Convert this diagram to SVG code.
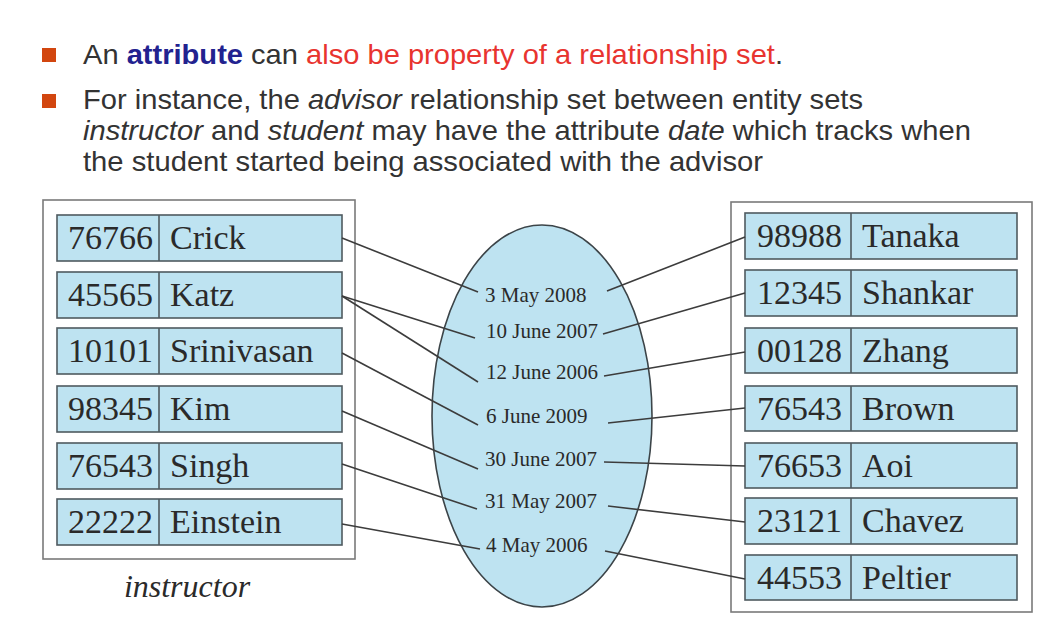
<svg xmlns="http://www.w3.org/2000/svg" width="1055" height="627" viewBox="0 0 1055 627">
<style>
.hdr{font-family:"Liberation Sans",Arial,sans-serif;font-size:28px;fill:#333}
.it{font-style:italic}
.blue{font-weight:bold;fill:#22228f}
.red{fill:#e8342f}
.bul{fill:#d2460f}
.outer{fill:#fff;stroke:#7a7a7a;stroke-width:1.6}
.row{fill:#bee3f1;stroke:#4f5a60;stroke-width:1.6}
.div{stroke:#4f5a60;stroke-width:1.6}
.cell{font-family:"Liberation Serif","Times New Roman",serif;font-size:34px;fill:#2a2a2a}
.date{font-family:"Liberation Serif","Times New Roman",serif;font-size:21px;fill:#2a2a2a}
.lbl{font-family:"Liberation Serif","Times New Roman",serif;font-size:32px;font-style:italic;fill:#2a2a2a}
.con{stroke:#3c3c3c;stroke-width:1.6;fill:none}
</style>
<rect width="1055" height="627" fill="#fff"/>
<g id="header">
<rect class="bul" x="42" y="48" width="14" height="14"/>
<rect class="bul" x="42" y="94" width="14" height="14"/>
<text class="hdr" x="83" y="64" textLength="700" lengthAdjust="spacingAndGlyphs">An <tspan class="blue">attribute</tspan> can <tspan class="red">also be property of a relationship set</tspan>.</text>
<text class="hdr" x="83" y="109" textLength="780" lengthAdjust="spacingAndGlyphs">For instance, the <tspan class="it">advisor</tspan> relationship set between entity sets</text>
<text class="hdr" x="83" y="140" textLength="888" lengthAdjust="spacingAndGlyphs"><tspan class="it">instructor</tspan> and <tspan class="it">student</tspan> may have the attribute <tspan class="it">date</tspan> which tracks when</text>
<text class="hdr" x="83" y="171" textLength="680" lengthAdjust="spacingAndGlyphs">the student started being associated with the advisor</text>
</g>
<g id="instructor">
<rect class="outer" x="43" y="200" width="312" height="359"/>
<g id="i1"><rect class="row" x="57" y="215" width="285" height="46"/><line class="div" x1="159" y1="215" x2="159" y2="261"/><text class="cell" x="68" y="249">76766</text><text class="cell" x="170" y="249">Crick</text></g>
<g id="i2"><rect class="row" x="57" y="272" width="285" height="46"/><line class="div" x1="159" y1="272" x2="159" y2="318"/><text class="cell" x="68" y="306">45565</text><text class="cell" x="170" y="306">Katz</text></g>
<g id="i3"><rect class="row" x="57" y="328" width="285" height="46"/><line class="div" x1="159" y1="328" x2="159" y2="374"/><text class="cell" x="68" y="362">10101</text><text class="cell" x="170" y="362">Srinivasan</text></g>
<g id="i4"><rect class="row" x="57" y="386" width="285" height="46"/><line class="div" x1="159" y1="386" x2="159" y2="432"/><text class="cell" x="68" y="420">98345</text><text class="cell" x="170" y="420">Kim</text></g>
<g id="i5"><rect class="row" x="57" y="443" width="285" height="46"/><line class="div" x1="159" y1="443" x2="159" y2="489"/><text class="cell" x="68" y="477">76543</text><text class="cell" x="170" y="477">Singh</text></g>
<g id="i6"><rect class="row" x="57" y="499" width="285" height="46"/><line class="div" x1="159" y1="499" x2="159" y2="545"/><text class="cell" x="68" y="533">22222</text><text class="cell" x="170" y="533">Einstein</text></g>
<text class="lbl" x="187" y="597" text-anchor="middle">instructor</text>
</g>
<g id="student">
<rect class="outer" x="731" y="202" width="301" height="410"/>
<g id="s1"><rect class="row" x="745" y="213" width="272" height="46"/><line class="div" x1="851" y1="213" x2="851" y2="259"/><text class="cell" x="757" y="247">98988</text><text class="cell" x="862" y="247">Tanaka</text></g>
<g id="s2"><rect class="row" x="745" y="270" width="272" height="46"/><line class="div" x1="851" y1="270" x2="851" y2="316"/><text class="cell" x="757" y="304">12345</text><text class="cell" x="862" y="304">Shankar</text></g>
<g id="s3"><rect class="row" x="745" y="328" width="272" height="45"/><line class="div" x1="851" y1="328" x2="851" y2="373"/><text class="cell" x="757" y="362">00128</text><text class="cell" x="862" y="362">Zhang</text></g>
<g id="s4"><rect class="row" x="745" y="386" width="272" height="45"/><line class="div" x1="851" y1="386" x2="851" y2="431"/><text class="cell" x="757" y="420">76543</text><text class="cell" x="862" y="420">Brown</text></g>
<g id="s5"><rect class="row" x="745" y="443" width="272" height="45"/><line class="div" x1="851" y1="443" x2="851" y2="488"/><text class="cell" x="757" y="477">76653</text><text class="cell" x="862" y="477">Aoi</text></g>
<g id="s6"><rect class="row" x="745" y="498" width="272" height="46"/><line class="div" x1="851" y1="498" x2="851" y2="544"/><text class="cell" x="757" y="532">23121</text><text class="cell" x="862" y="532">Chavez</text></g>
<g id="s7"><rect class="row" x="745" y="555" width="272" height="45"/><line class="div" x1="851" y1="555" x2="851" y2="600"/><text class="cell" x="757" y="589">44553</text><text class="cell" x="862" y="589">Peltier</text></g>
</g>
<g id="advisor">
<ellipse cx="542" cy="416" rx="110" ry="191" fill="#bee3f1" stroke="#3c4448" stroke-width="1.6"/>
<text class="date" x="485" y="302">3 May 2008</text>
<text class="date" x="486" y="338">10 June 2007</text>
<text class="date" x="486" y="379">12 June 2006</text>
<text class="date" x="486" y="423">6 June 2009</text>
<text class="date" x="485" y="466">30 June 2007</text>
<text class="date" x="485" y="508">31 May 2007</text>
<text class="date" x="486" y="552">4 May 2006</text>
</g>
<g id="connectors">
<line class="con" x1="342" y1="238" x2="478" y2="292"/>
<line class="con" x1="342" y1="296" x2="475" y2="338"/>
<line class="con" x1="342" y1="296" x2="478" y2="382"/>
<line class="con" x1="342" y1="353" x2="478" y2="425"/>
<line class="con" x1="342" y1="411" x2="478" y2="469"/>
<line class="con" x1="342" y1="464" x2="477" y2="509"/>
<line class="con" x1="342" y1="524" x2="480" y2="549"/>
<line class="con" x1="607" y1="291" x2="745" y2="237"/>
<line class="con" x1="603" y1="334" x2="745" y2="293"/>
<line class="con" x1="604" y1="376" x2="745" y2="352"/>
<line class="con" x1="608" y1="423" x2="745" y2="408"/>
<line class="con" x1="604" y1="462" x2="745" y2="466"/>
<line class="con" x1="608" y1="506" x2="745" y2="522"/>
<line class="con" x1="605" y1="551" x2="745" y2="579"/>
</g>
</svg>
